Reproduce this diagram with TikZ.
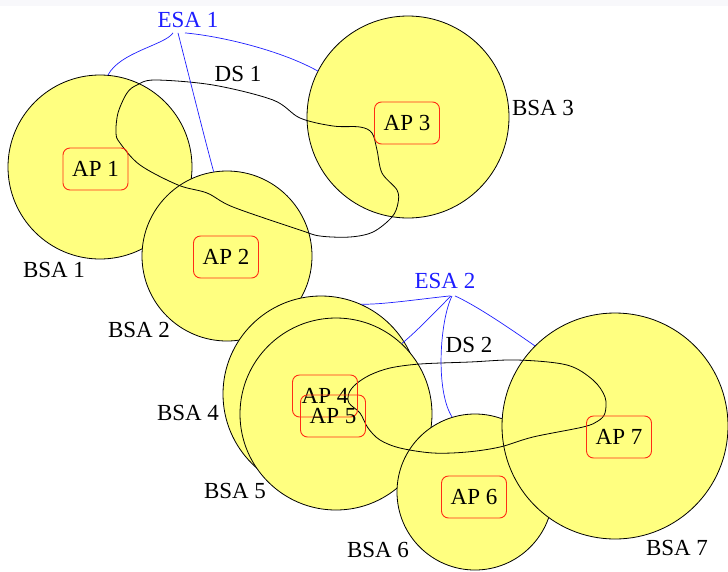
\documentclass[tikz,border=0pt]{standalone}
\usepackage{fontspec}
\setmainfont{Liberation Serif}
\definecolor{bsayellow}{RGB}{255,255,128}
\definecolor{apred}{RGB}{255,45,20}
\definecolor{esablue}{RGB}{30,30,255}
\definecolor{topgray}{RGB}{248,248,251}
\begin{document}
\begin{tikzpicture}[x=1pt,y=-1pt,
  bsa/.style={circle, draw=black, fill=bsayellow, line width=0.8pt, inner sep=0pt},
  ap/.style={draw=apred, rounded corners=7pt, minimum width=65pt, minimum height=42pt, inner sep=0pt, line width=0.9pt, font=\fontsize{23}{27}\selectfont},
  lbl/.style={font=\fontsize{23}{27}\selectfont, inner sep=2pt},
  esa/.style={lbl, text=esablue},
  esaline/.style={draw=esablue, line width=0.7pt},
  dsline/.style={draw=black, line width=0.8pt}]
\useasboundingbox (0,0) rectangle (728,571);
\fill[topgray] (0,0) rectangle (728,6);
% BSA circles
\node[bsa, minimum size=184pt] (b1) at (100,167) {};
\node[bsa, minimum size=170pt] (b2) at (227,256) {};
\node[bsa, minimum size=202pt] (b3) at (408,117) {};
\node[bsa, minimum size=196pt] (b4) at (321,394) {};
\node[bsa, minimum size=192pt] (b5) at (336,414) {};
\node[bsa, minimum size=156pt] (b6) at (475,492) {};
\node[bsa, minimum size=226pt] (b7) at (615,426) {};
% DS loops
\draw[dsline] plot[smooth cycle, tension=0.55] coordinates {(137,85) (155,80) (213,85) (273,100) (300,118) (333,126) (360,127) (372,133) (377,150) (382,173) (397,190) (398,203) (392,217) (373,232) (350,237) (320,236) (300,230) (233,207) (207,193) (178,185) (140,165) (120,143) (116,133) (118,113) (127,93)};
\draw[dsline] plot[smooth cycle, tension=0.55] coordinates {(349,393) (356,384) (370,375) (390,368) (420,364) (470,362) (517,360) (567,365) (593,380) (605,397) (605,413) (598,421) (583,427) (533,437) (500,447) (467,452) (433,453) (400,448) (380,440) (368,428) (360,413) (349,403)};
% AP boxes
\node[ap] (ap1) at (95.5,169) {AP 1};
\node[ap] (ap2) at (226,257) {AP 2};
\node[ap] (ap3) at (407,123) {AP 3};
\node[ap] (ap4) at (325,396) {AP 4};
\node[ap] (ap5) at (333,416) {AP 5};
\node[ap] (ap6) at (474,497) {AP 6};
\node[ap] (ap7) at (619,437) {AP 7};
% labels
\node[esa] (e1) at (188,20) {ESA 1};
\node[esa] (e2) at (445,281) {ESA 2};
\node[lbl] (ds1) at (238,74) {DS 1};
\node[lbl] (ds2) at (469,345) {DS 2};
\node[lbl] (l1) at (54,270) {BSA 1};
\node[lbl] (l2) at (139,330) {BSA 2};
\node[lbl] (l3) at (543,108) {BSA 3};
\node[lbl] (l4) at (188,413) {BSA 4};
\node[lbl] (l5) at (235,491) {BSA 5};
\node[lbl] (l6) at (378,550) {BSA 6};
\node[lbl] (l7) at (677,548) {BSA 7};
% ESA connectors
\draw[esaline] ([xshift=-15pt,yshift=-3pt]e1.south) .. controls (165,45) and (120,52) .. (b1.85);
\draw[esaline] ([xshift=-10pt,yshift=-3pt]e1.south) .. controls (190,80) and (205,140) .. (b2.99);
\draw[esaline] ([xshift=-3pt,yshift=-3pt]e1.south) .. controls (220,36) and (280,50) .. (b3.153);
\draw[esaline] ([xshift=5pt,yshift=-5pt]e2.south) .. controls (420,299) and (380,305) .. (b4.66);
\draw[esaline] ([xshift=6pt,yshift=-5pt]e2.south) .. controls (435,312) and (415,333) .. (b5.47);
\draw[esaline] ([xshift=7pt,yshift=-5pt]e2.south) .. controls (440,320) and (435,390) .. (b6.107);
\draw[esaline] ([xshift=10pt,yshift=-5pt]e2.south) .. controls (475,305) and (505,325) .. (b7.135);
\end{tikzpicture}
\end{document}
